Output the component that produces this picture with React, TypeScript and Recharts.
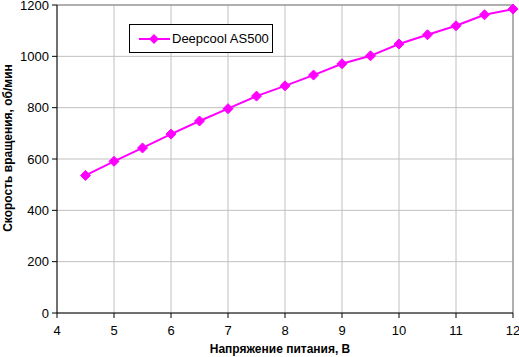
import React from 'react';
import { LineChart, Line, XAxis, YAxis, CartesianGrid, ReferenceLine, Legend } from 'recharts';

const voltages = [4.5, 5, 5.5, 6, 6.5, 7, 7.5, 8, 8.5, 9, 9.5, 10, 10.5, 11, 11.5, 12];
const rpm = [536, 591, 643, 697, 748, 796, 845, 885, 927, 971, 1002, 1048, 1084, 1119, 1162, 1184];
const xTicks = [4, 5, 6, 7, 8, 9, 10, 11, 12];
const yTicks = [0, 200, 400, 600, 800, 1000, 1200];
const seriesName = 'Deepcool AS500';
const xTitle = 'Напряжение питания, В';
const yTitle = 'Скорость вращения, об/мин';

const data = voltages.map((v, i) => ({ v, rpm: rpm[i] }));

const FONT = '"Liberation Sans", Arial, sans-serif';
const COLOR = '#FF00FF';

const Diamond = (props: any) => {
  const { cx, cy } = props;
  if (cx == null || cy == null) return null;
  const r = 5;
  return (
    <polygon
      points={`${cx},${cy - r} ${cx + r},${cy} ${cx},${cy + r} ${cx - r},${cy}`}
      fill={COLOR}
      stroke={COLOR}
      strokeWidth={1}
    />
  );
};

const LegendBox = () => (
  <div
    style={{
      border: '1px solid #000',
      background: '#fff',
      width: 142,
      height: 27,
      display: 'flex',
      alignItems: 'center',
      fontFamily: FONT,
      fontSize: 13,
      color: '#000',
      boxSizing: 'content-box',
    }}
  >
    <svg width={42} height={12}>
      <line x1={9} y1={6} x2={40} y2={6} stroke={COLOR} strokeWidth={2} />
      <polygon points="24,1 29,6 24,11 19,6" fill={COLOR} />
    </svg>
    <span>{seriesName}</span>
  </div>
);

const XTitle = () => (
  <text x={280} y={353} textAnchor="middle" fontFamily={FONT} fontSize={12} fontWeight="bold" fill="#000">
    {xTitle}
  </text>
);

const YTitle = () => (
  <text
    x={12}
    y={148}
    textAnchor="middle"
    fontFamily={FONT}
    fontSize={12}
    fontWeight="bold"
    fill="#000"
    transform="rotate(-90 12 148)"
  >
    {yTitle}
  </text>
);

export default function App() {
  return (
    <div style={{ position: 'absolute', left: 0, top: 0, background: '#fff' }}>
      <LineChart width={519} height={357} data={data} margin={{ top: 5, right: 6, bottom: 0, left: 0 }}>
        <CartesianGrid stroke="#c0c0c0" strokeWidth={1} />
        <XAxis
          dataKey="v"
          type="number"
          domain={[4, 12]}
          ticks={xTicks}
          interval={0}
          height={44}
          stroke="#000"
          tickSize={5}
          tickMargin={8}
          tick={{ fill: '#000', fontFamily: FONT, fontSize: 13 }}
          label={<XTitle />}
        />
        <YAxis
          type="number"
          domain={[0, 1200]}
          ticks={yTicks}
          interval={0}
          width={57}
          stroke="#000"
          tickSize={5}
          tickMargin={3}
          tick={{ fill: '#000', fontFamily: FONT, fontSize: 13 }}
          label={<YTitle />}
        />
        <ReferenceLine y={1200} stroke="#808080" strokeWidth={1} />
        <ReferenceLine x={12} stroke="#808080" strokeWidth={1} />
        <Legend
          layout="horizontal"
          verticalAlign="middle"
          align="center"
          content={<LegendBox />}
          wrapperStyle={{ position: 'absolute', left: 129, top: 24, width: 'auto', height: 'auto' }}
        />
        <Line
          type="linear"
          dataKey="rpm"
          name={seriesName}
          stroke={COLOR}
          strokeWidth={2}
          dot={<Diamond />}
          activeDot={false}
          isAnimationActive={false}
        />
      </LineChart>
    </div>
  );
}
